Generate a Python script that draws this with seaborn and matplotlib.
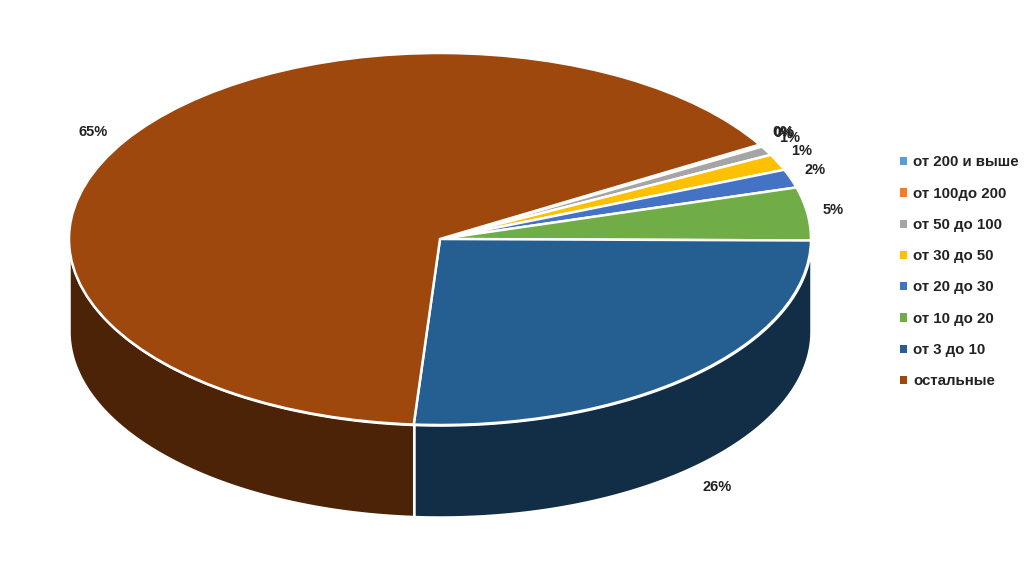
import numpy as np
import seaborn as sns
import matplotlib.pyplot as plt
from matplotlib.patches import Patch

groups = ['от 200 и выше', 'от 100до 200', 'от 50 до 100', 'от 30 до 50',
          'от 20 до 30', 'от 10 до 20', 'от 3 до 10', 'остальные']
shares = [0.1, 0.1, 0.8, 1.4, 1.6, 4.6, 26.0, 65.4]
colors = ['#5B9BD5', '#ED7D31', '#A5A5A5', '#FFC000',
          '#4472C4', '#70AD47', '#255E91', '#9E480E']

sns.set_theme(style='white')
plt.rcParams['font.family'] = ['Liberation Sans', 'DejaVu Sans']

W, H = 1027, 574
cx, cy = 440, 239      # centre of the top ellipse in pixels
rx, ry = 371, 186      # its radii
depth = 92 / ry        # wall height in pie units

fig = plt.figure(figsize=(W / 100, H / 100), dpi=100)
ax = fig.add_axes([0, 0, 1, 1])

wedges, texts, autotexts = ax.pie(shares, colors=colors, startangle=30.5, counterclock=False,
                                  autopct='%1.0f%%', pctdistance=1.08,
                                  wedgeprops={'edgecolor': 'white', 'linewidth': 1.8, 'zorder': 3},
                                  textprops={'fontsize': 10.5, 'color': '#222222', 'fontweight': 'bold'})
ax.set_aspect('auto')
ax.set_xlim(-cx / rx, (W - cx) / rx)
ax.set_ylim((cy - H) / ry, cy / ry)
ax.axis('off')

# side wall, only the part of each slice that faces the viewer
for w in wedges:
    t = np.radians(np.linspace(w.theta1, w.theta2, 400))
    t = t[np.sin(t) <= 0]
    if len(t) < 2:
        continue
    x = np.cos(t)
    y = np.sin(t)
    dark = tuple(c * 0.48 for c in w.get_facecolor()[:3])
    ax.fill_between(x, y - depth, y, color=dark, edgecolor='white', linewidth=1.8, zorder=2)

# labels of the front slices sit below the wall
for w, a in zip(wedges, autotexts):
    mid = np.radians((w.theta1 + w.theta2) / 2)
    if np.cos(mid) > 0:
        lx = 1.07 * np.cos(mid)
        ly = 1.14 * np.sin(mid)
    else:
        lx = 1.10 * np.cos(mid)
        ly = 1.09 * np.sin(mid)
    if ly < 0:
        lx = lx * 1.03
        ly = ly - depth
    a.set_position((lx, ly))
    a.set_ha('center')
    a.set_va('center')

handles = [Patch(facecolor=c, edgecolor='none') for c in colors]
ax.legend(handles, groups, loc='upper left', bbox_to_anchor=(886.5 / W, 1 - 142 / H),
          frameon=False, handlelength=0.47, handleheight=0.47,
          handletextpad=0.4, labelspacing=1.15, prop={'size': 10.8, 'weight': 'bold'},
          labelcolor='#222222')

fig.savefig('out.png', dpi=100, facecolor='white')
